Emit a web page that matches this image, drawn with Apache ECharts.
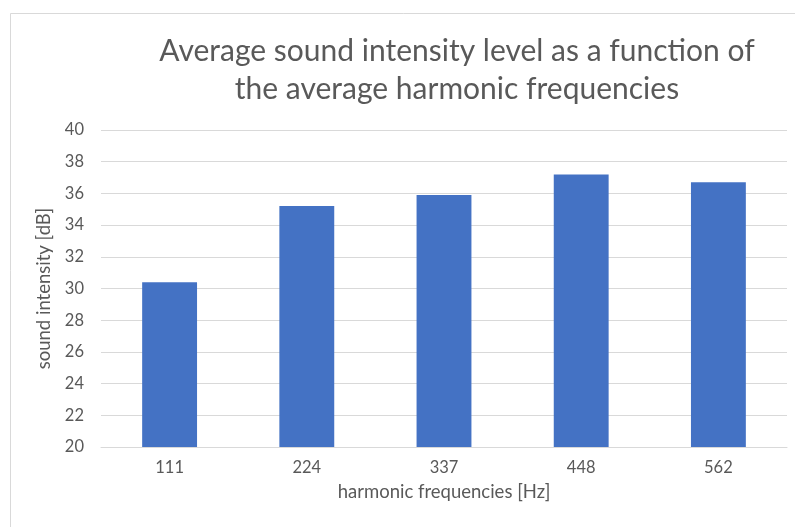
<!DOCTYPE html>
<html><head><meta charset="utf-8">
<script src="https://cdn.jsdelivr.net/npm/echarts@6/dist/echarts.min.js"></script>
<style>html,body{margin:0;padding:0;background:#fff}#c{width:795px;height:527px}</style>
</head><body><div id="c"></div>
<script>
const categories = ['111', '224', '337', '448', '562'];
const intensity = [30.4, 35.2, 35.9, 37.2, 36.7];
const titleText = 'Average sound intensity level as a function of\nthe average harmonic frequencies';
const xName = 'harmonic frequencies [Hz]';
const yName = 'sound intensity [dB]';

const chart = echarts.init(document.getElementById('c'), null, {renderer: 'canvas'});
const FONT = 'Lato';
chart.setOption({
  animation: false,
  backgroundColor: '#fff',
  graphic: [{type: 'rect', shape: {x: 10.5, y: 13.5, width: 800, height: 600}, style: {fill: 'none', stroke: '#d9d9d9', lineWidth: 1}, silent: true}],
  title: {
    text: titleText, left: 452, top: 27, textAlign: 'center',
    textStyle: {fontFamily: FONT, fontSize: 30, fontWeight: 'normal', color: '#595959', lineHeight: 38}
  },
  grid: {left: 101, right: 8, top: 130, bottom: 80, containLabel: false},
  xAxis: {
    type: 'category', data: categories,
    name: xName, nameLocation: 'middle', nameGap: 36,
    nameTextStyle: {fontFamily: FONT, fontSize: 18.5, color: '#595959'},
    axisLine: {lineStyle: {color: '#d9d9d9', width: 1}},
    axisTick: {show: false},
    axisLabel: {fontFamily: FONT, fontSize: 16.5, color: '#595959', margin: 12}
  },
  yAxis: {
    type: 'value', min: 20, max: 40, interval: 2,
    name: yName, nameLocation: 'middle', nameGap: 41, nameRotate: 90,
    nameTextStyle: {fontFamily: FONT, fontSize: 18.5, color: '#595959'},
    axisLine: {show: false}, axisTick: {show: false},
    splitLine: {lineStyle: {color: '#d9d9d9', width: 1}},
    axisLabel: {fontFamily: FONT, fontSize: 16.5, color: '#595959', margin: 17}
  },
  series: [{
    type: 'bar', data: intensity, barWidth: '40%',
    itemStyle: {color: '#4472c4'}
  }]
});
</script></body></html>
